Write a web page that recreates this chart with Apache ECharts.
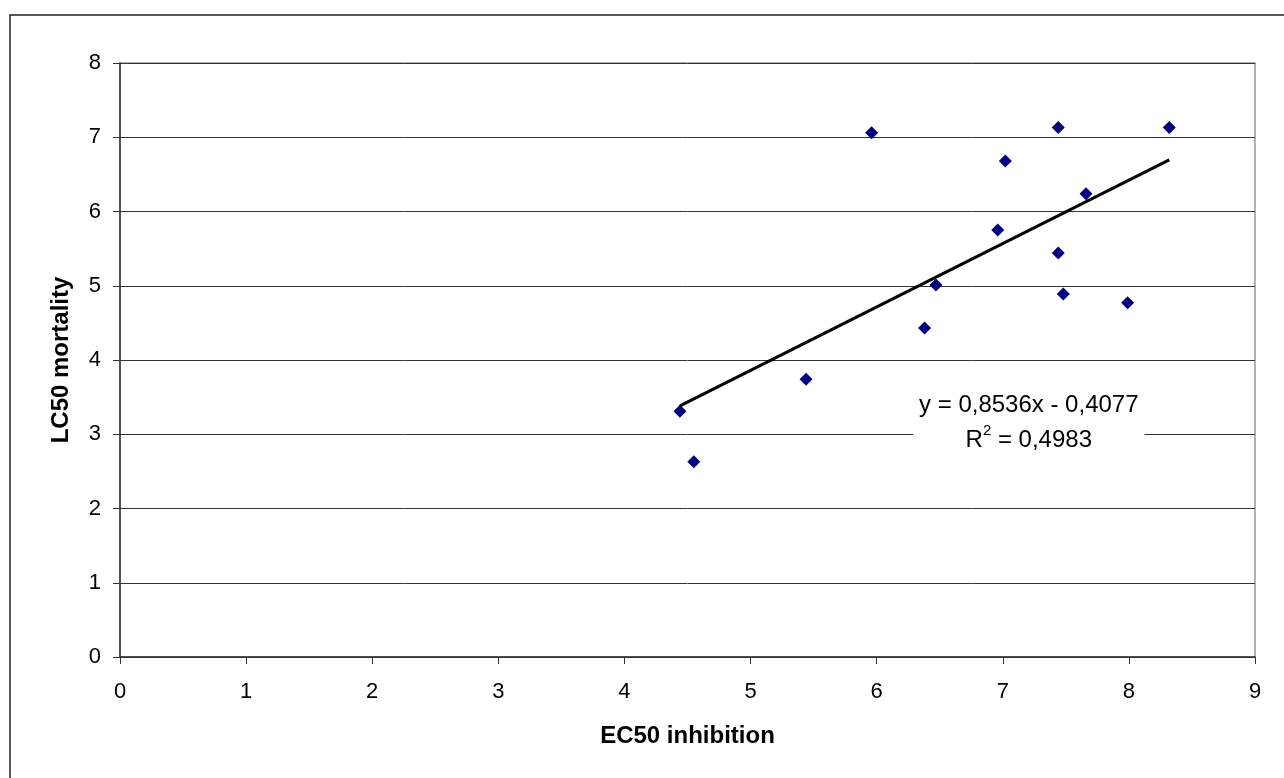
<!DOCTYPE html>
<html><head><meta charset="utf-8">
<script src="https://cdn.jsdelivr.net/npm/echarts@6/dist/echarts.min.js"></script>
<style>html,body{margin:0;padding:0;background:#fff}#c{width:1284px;height:778px}</style>
</head><body><div id="c"></div>
<script>
const ec50 = [4.44, 4.55, 5.44, 5.96, 6.38, 6.47, 6.96, 7.02, 7.44, 7.44, 7.48, 7.66, 7.99, 8.32];
const lc50 = [3.31, 2.63, 3.74, 7.06, 4.43, 5.01, 5.75, 6.68, 7.13, 5.44, 4.89, 6.24, 4.77, 7.13];
const slope = 0.8536, intercept = -0.4077;
const eqText = ['y = 0,8536x - 0,4077', 'R{sup|2} = 0,4983'];
const xTicks = [0,1,2,3,4,5,6,7,8,9];
const yTicks = [0,1,2,3,4,5,6,7,8];

const pts = ec50.map((x,i)=>[x, lc50[i]]);
const xmin = Math.min(...ec50), xmax = Math.max(...ec50);
const trend = [[xmin, slope*xmin+intercept],[xmax, slope*xmax+intercept]];
const font = 'Liberation Sans, Arial, sans-serif';

const chart = echarts.init(document.getElementById('c'), null, {renderer:'canvas'});
chart.setOption({
  animation:false,
  backgroundColor:'#fff',
  grid:{left:120, top:63, right:29, bottom:121, show:true, borderColor:'#999', borderWidth:1.5, backgroundColor:'transparent'},
  xAxis:{type:'value', min:0, max:9, interval:1,
    name:'EC50 inhibition', nameLocation:'middle', nameGap:67,
    nameTextStyle:{fontFamily:font, fontSize:24, fontWeight:'bold', color:'#000'},
    axisLine:{show:true, onZero:false, lineStyle:{color:'#333', width:1.5}},
    axisTick:{show:true, length:7, lineStyle:{color:'#333'}},
    axisLabel:{fontFamily:font, fontSize:22, color:'#000', margin:24, formatter:v=>String(xTicks[v] ?? v)},
    splitLine:{show:false}},
  yAxis:{type:'value', min:0, max:8, interval:1,
    name:'LC50 mortality', nameLocation:'middle', nameGap:47, nameRotate:90,
    nameTextStyle:{fontFamily:font, fontSize:24, fontWeight:'bold', color:'#000'},
    axisLine:{show:true, onZero:false, lineStyle:{color:'#333', width:1.5}},
    axisTick:{show:true, length:7, lineStyle:{color:'#333'}},
    axisLabel:{fontFamily:font, fontSize:22, color:'#000', margin:19, formatter:v=>String(yTicks[v] ?? v)},
    splitLine:{show:true, lineStyle:{color:'#333', width:1}}},
  series:[
    {type:'scatter', data:pts, symbol:'diamond', symbolSize:13,
      itemStyle:{color:'#000080', opacity:1}, z:3},
    {type:'line', data:trend, symbol:'none', lineStyle:{color:'#000', width:3}, z:4,
      markPoint:{symbol:'rect', symbolSize:0, silent:true,
        data:[{coord:[7.0, 3.0], label:{show:true, position:'inside',
          formatter:eqText.join('\n'),
          fontFamily:font, fontSize:24, color:'#000', lineHeight:35, align:'center',
          backgroundColor:'#fff', padding:[4,6,4,6], offset:[26,-11],
          rich:{sup:{fontSize:15, verticalAlign:'top', lineHeight:35, padding:[0,0,10,0], fontFamily:font, color:'#000'}}}}]}}
  ],
  graphic:[{type:'rect', shape:{x:10, y:15, width:1300, height:800}, style:{fill:'none', stroke:'#222', lineWidth:1.5}, silent:true}]
});
</script></body></html>
